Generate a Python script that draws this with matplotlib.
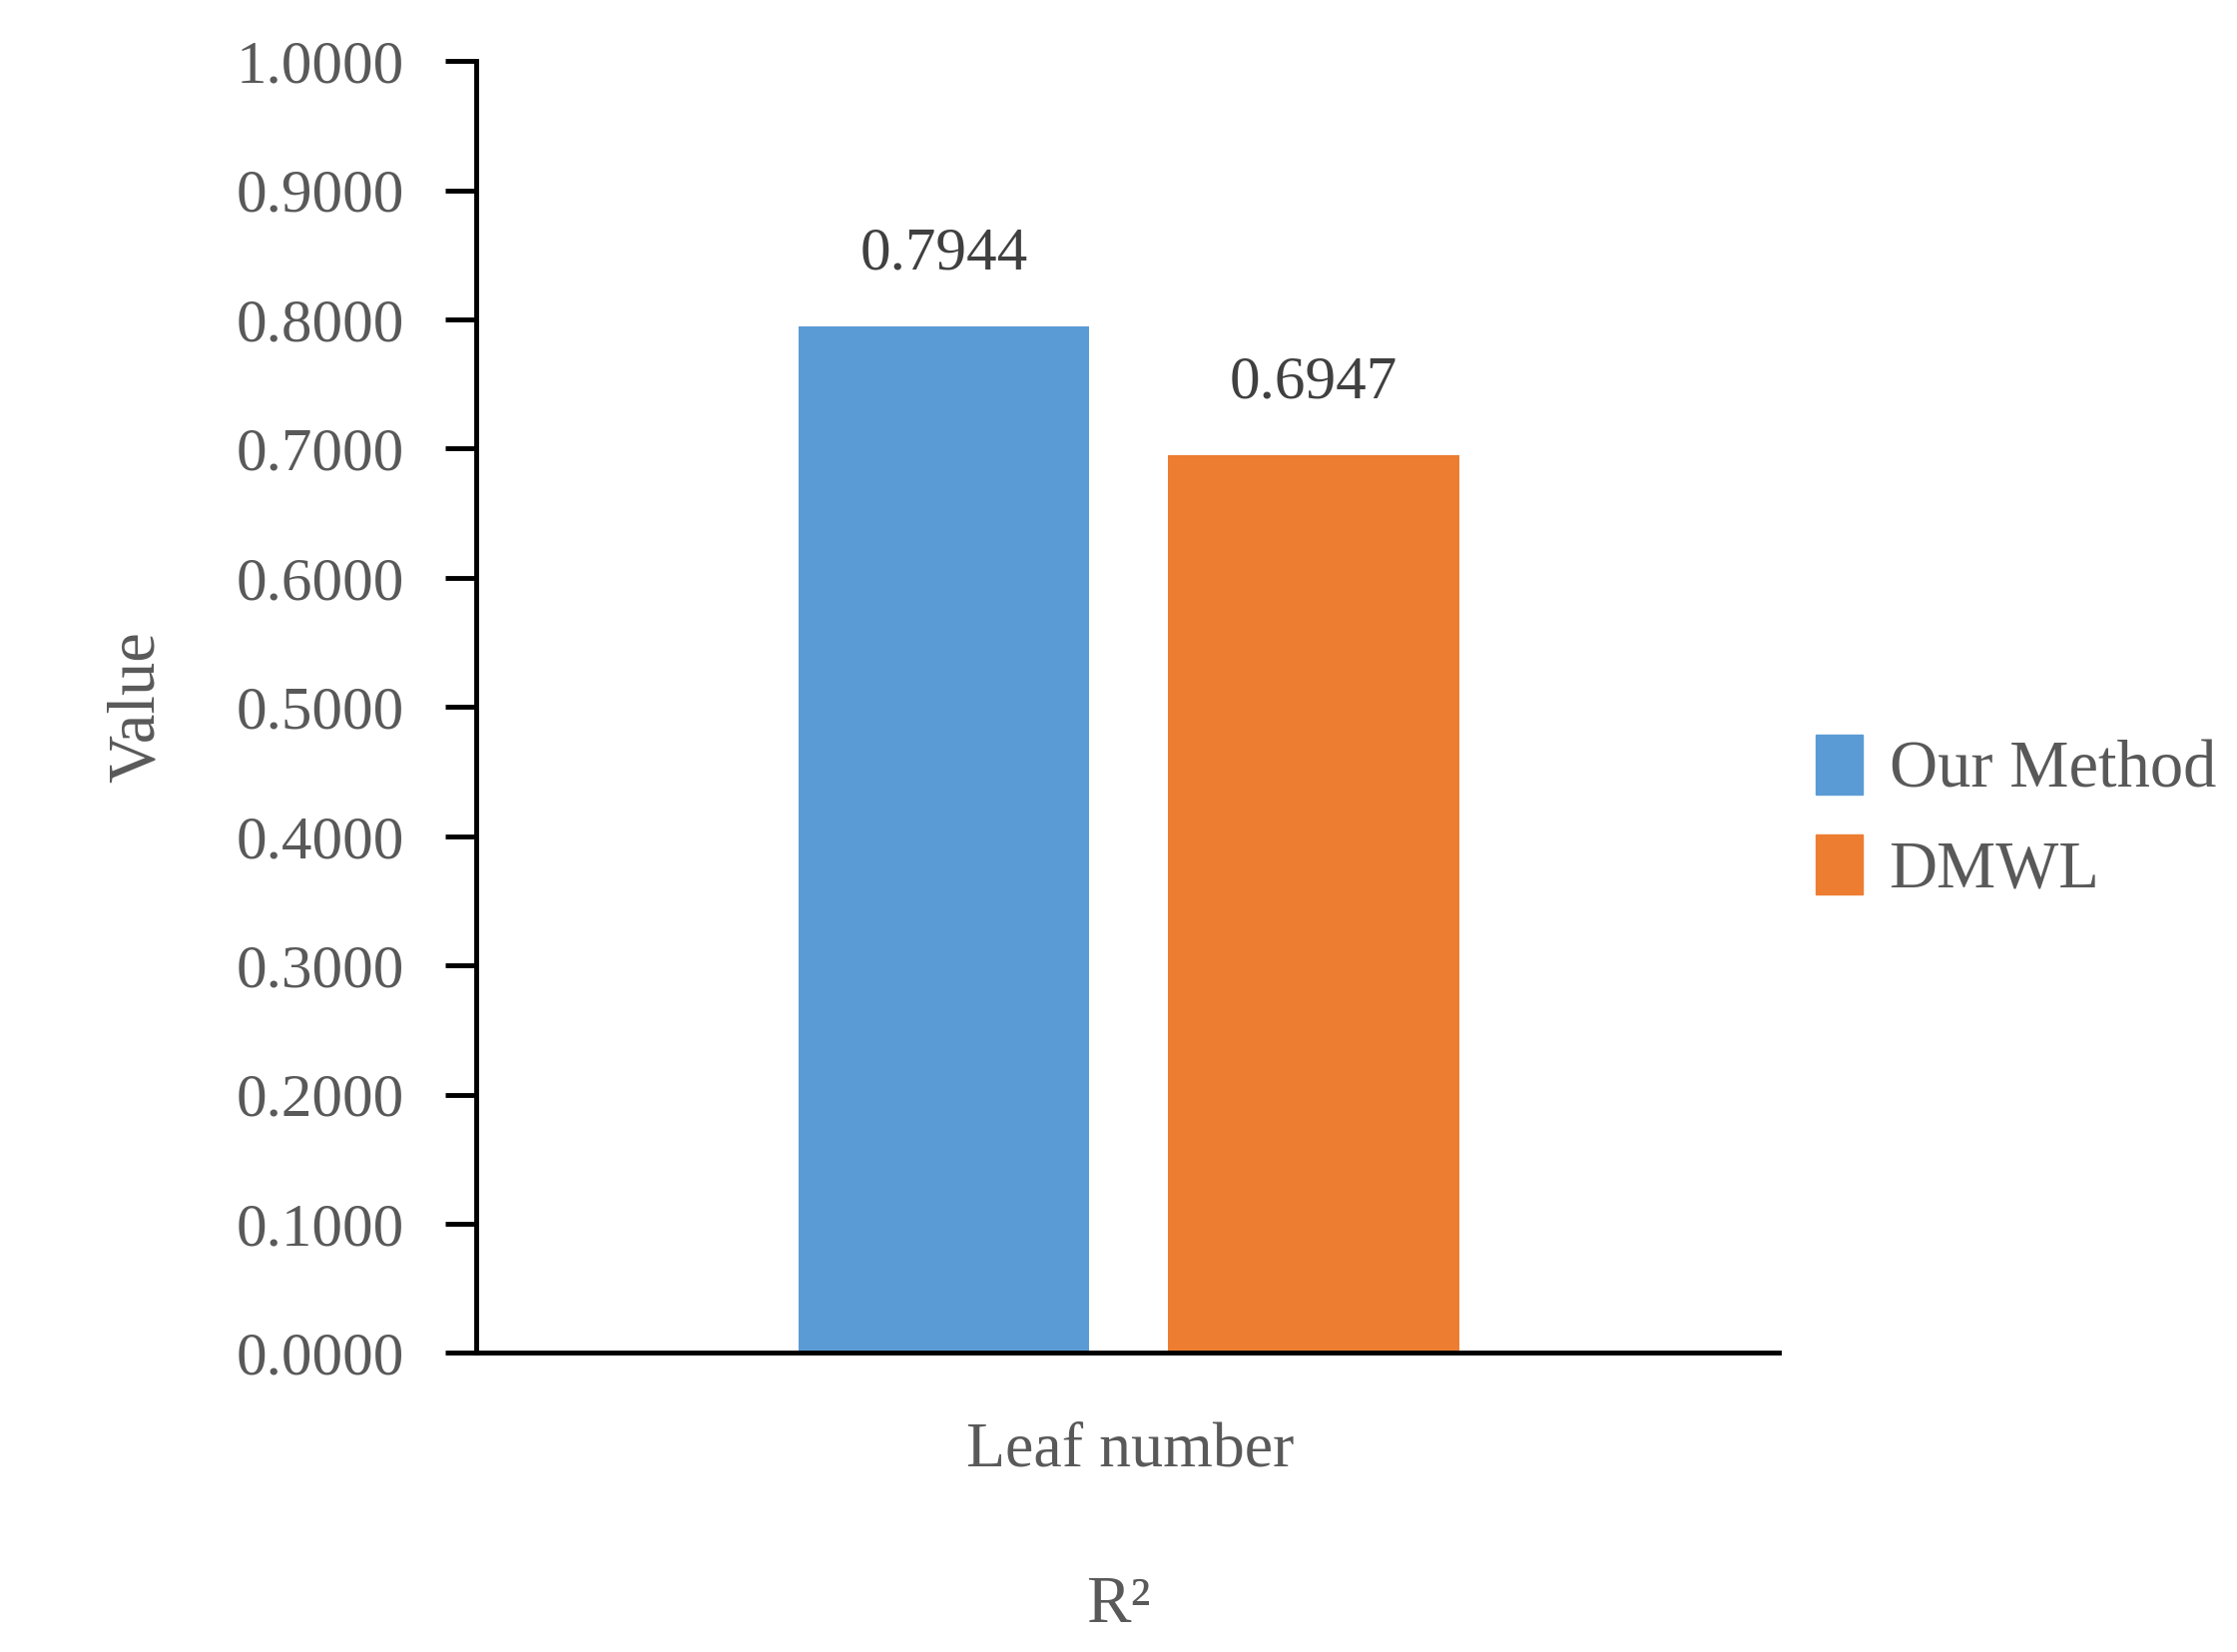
import matplotlib.pyplot as plt
from matplotlib.patches import Patch

series = ["Our Method", "DMWL"]
values = [0.7944, 0.6947]
colors = ["#5B9BD5", "#ED7D31"]
yticks = [i / 10 for i in range(11)]

plt.rcParams['font.family'] = ['Liberation Serif', 'DejaVu Serif']
gray = "#595959"

fig = plt.figure(figsize=(22.41, 16.55), dpi=100)
ax = fig.add_axes([0.213, 0.181, 0.582, 0.782])

x = [0, 1]
ax.bar(x, values, width=0.787, color=colors)
for xi, v in zip(x, values):
    ax.text(xi, v + 0.035, f"{v:.4f}", ha="center", va="bottom", fontsize=44, color="#404040")

ax.set_xlim(-1.264, 2.256)
ax.set_ylim(0, 1.0)
ax.set_yticks(yticks)
ax.set_yticklabels([f"{t:.4f}" for t in yticks], fontsize=44, color=gray)
ax.set_xticks([])
for s in ["top", "right"]:
    ax.spines[s].set_visible(False)
for s in ["left", "bottom"]:
    ax.spines[s].set_linewidth(3.5)
ax.tick_params(axis="y", direction="out", length=22, width=3.5, pad=30)

ax.set_ylabel("Value", fontsize=48, color=gray, labelpad=50)
fig.text(0.505, 0.122, "Leaf number", ha="center", va="center", fontsize=46, color=gray)
fig.text(0.5, 0.028, "R²", ha="center", va="center", fontsize=48, color=gray)

handles = [Patch(color=c) for c in colors]
fig.legend(handles, series, loc="center left", bbox_to_anchor=(0.785, 0.505), frameon=False,
           fontsize=48, labelcolor=gray, handlelength=0.7, handleheight=1.0, handletextpad=0.4,
           labelspacing=0.5)

fig.savefig("out.png", dpi=100)
